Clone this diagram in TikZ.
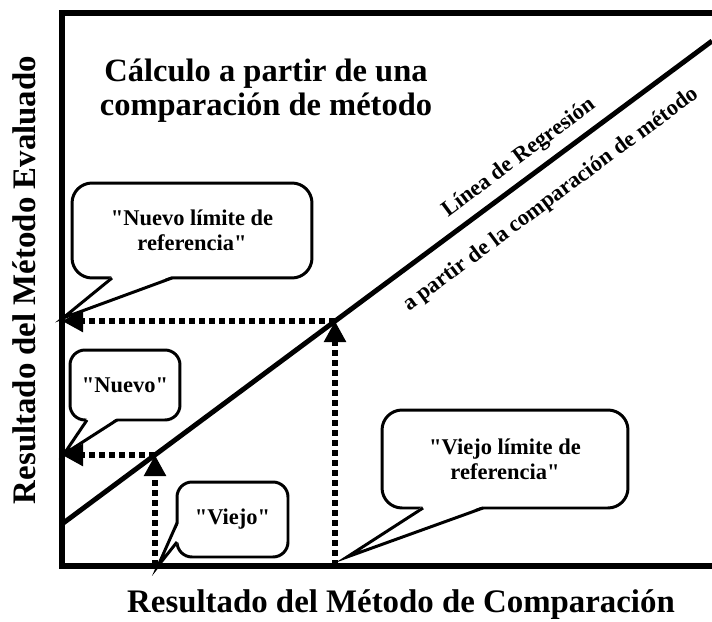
\documentclass[tikz,border=0pt]{standalone}
\usepackage{fontspec}
\setmainfont{Liberation Serif}[Ligatures=TeXOff]
\usetikzlibrary{arrows.meta,calc}

\begin{document}
\begin{tikzpicture}[
x=0.02cm, y=-0.02cm,
eje/.style={line width=3.4pt},
recta/.style={line width=2.8pt},
punteada/.style={
line width=3.4pt,
dash pattern=on 3.4pt off 2.3pt,
-{Triangle[length=12pt,width=12pt]}
},
globo/.style={
draw,
fill=white,
line width=1.7pt,
rounded corners=0.4cm,
inner sep=0pt,
outer sep=0pt,
align=center,
font=\bfseries\fontsize{12.8}{14.2}\selectfont
},
pico/.style={line width=1.7pt},
titulo/.style={
align=center,
font=\bfseries\fontsize{18.5}{19.4}\selectfont
},
ejetexto/.style={font=\bfseries\fontsize{18.7}{20}\selectfont},
recttexto/.style={
rotate=36.6,
font=\bfseries\fontsize{12.8}{14}\selectfont
}
]
\useasboundingbox (0,0) rectangle (712,621);

% marco
\coordinate (ejesup) at (712,13);
\coordinate (arriba) at (62,13);
\coordinate (origen) at (62,566);
\coordinate (ejeder) at (712,566);
\draw[eje] (ejesup) -- (arriba) -- (origen) -- (ejeder);

% linea de regresion
\coordinate (r0) at (62,524);
\coordinate (r1) at (712,41);
\draw[recta] (r0) -- (r1);

% puntos
\coordinate (xv) at (155,566);
\coordinate (pv) at (155,455);
\coordinate (yn) at (62,455);
\coordinate (xvl) at (335,566);
\coordinate (pvl) at (335,321);
\coordinate (ynl) at (62,321);

\draw[punteada] (xv) -- (pv);
\draw[punteada] (pv) -- (yn);
\draw[punteada] (xvl) -- (pvl);
\draw[punteada] (pvl) -- (ynl);

% textos
\node[titulo] (tit)
at (266,91)
{Cálculo a partir de una\\comparación de método};

\node[ejetexto, rotate=90] (ejey)
at (24,280)
{Resultado del Método Evaluado};

\node[ejetexto] (ejex)
at (401,605)
{Resultado del Método de Comparación};

\node[recttexto] (linea)
at (519,158)
{Línea de Regresión};

\node[recttexto] (apartir)
at (551,200)
{a partir de la comparación de método};

% globos
\node[globo, minimum width=4.8cm, minimum height=1.9cm] (nlim)
at (192,230.5)
{"Nuevo límite de\\referencia"};
\coordinate (nlimpt) at (63,318);
\fill[white] ($(nlim.south west)+(40,-2)$) -- (nlimpt) -- ($(nlim.south west)+(100,-2)$) -- cycle;
\draw[pico] ($(nlim.south west)+(40,0)$) -- (nlimpt) -- ($(nlim.south west)+(100,0)$);

\node[globo, minimum width=2.2cm, minimum height=1.4cm, rounded corners=0.3cm] (nuevo)
at (125,385)
{"Nuevo"};
\coordinate (nuevopt) at (64,454);
\fill[white] ($(nuevo.south west)+(17,-2)$) -- (nuevopt) -- ($(nuevo.south west)+(47,-2)$) -- cycle;
\draw[pico] ($(nuevo.south west)+(17,0)$) -- (nuevopt) -- ($(nuevo.south west)+(47,0)$);

\node[globo, minimum width=2.22cm, minimum height=1.5cm, rounded corners=0.3cm] (viejo)
at (232.5,519.5)
{"Viejo"};
\coordinate (viejopt) at (158,566);
\fill[white] ($(viejo.south west)+(2,-34)$) -- (viejopt) -- ($(viejo.south west)+(2,-15)$) -- cycle;
\draw[pico] ($(viejo.south west)+(0,-34)$) -- (viejopt) -- ($(viejo.south west)+(0,-15)$);

\node[globo, minimum width=4.92cm, minimum height=1.96cm] (vlim)
at (505,459)
{"Viejo límite de\\referencia"};
\coordinate (vlimpt) at (347,557);
\fill[white] ($(vlim.south west)+(41,-2)$) -- (vlimpt) -- ($(vlim.south west)+(101,-2)$) -- cycle;
\draw[pico] ($(vlim.south west)+(41,0)$) -- (vlimpt) -- ($(vlim.south west)+(101,0)$);

\end{tikzpicture}
\end{document}
